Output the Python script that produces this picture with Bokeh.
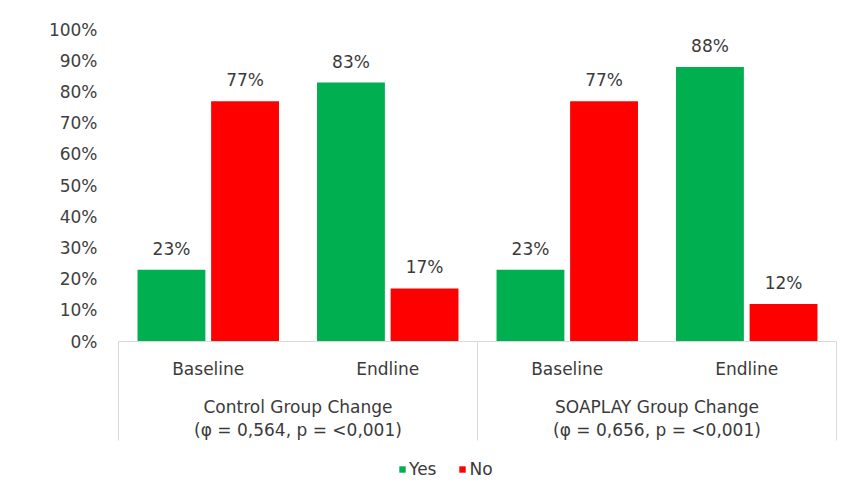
from bokeh.plotting import figure
from bokeh.models import (Range1d, FixedTicker, NumeralTickFormatter, Legend,
                          LegendItem, ColumnDataSource)
from bokeh.core.properties import value
from bokeh.embed import file_html
from bokeh.resources import INLINE

# ---- data ----
groups = ["Control Group Change", "SOAPLAY Group Change"]
group_stats = ["(φ = 0,564, p = <0,001)", "(φ = 0,656, p = <0,001)"]
periods = ["Baseline", "Endline", "Baseline", "Endline"]
yes = [0.23, 0.83, 0.23, 0.88]
no = [0.77, 0.17, 0.77, 0.12]
series = ["Yes", "No"]
y_ticks = [0.0, 0.1, 0.2, 0.3, 0.4, 0.5, 0.6, 0.7, 0.8, 0.9, 1.0]

# ---- styling / layout ----
GREEN = "#00B050"
RED = "#FF0000"
TEXT = "#3A3A3A"
TICK = "#404040"
LINE = "#D9D9D9"
FONT = "DejaVu Sans"
FS = "17px"

W, H = 853, 494
FL, FR = 110, 10          # frame borders (px)
X0PX, CATPX = 118, 179.5  # first category edge, px per category
Y0PX, UNITPX = 341, 312   # y=0 px from top, px per 100%

x_start = (FL - X0PX) / CATPX
x_end = (W - FR - X0PX) / CATPX
y_end = Y0PX / UNITPX
y_start = -(H - Y0PX) / UNITPX

p = figure(width=W, height=H, output_backend="svg", toolbar_location=None,
           x_range=Range1d(x_start, x_end), y_range=Range1d(y_start, y_end),
           min_border_left=FL, min_border_right=FR, min_border_top=0,
           min_border_bottom=0, x_axis_location=None)
p.outline_line_color = None
p.grid.visible = False
p.background_fill_color = "white"
p.border_fill_color = "white"

ax = p.yaxis[0]
ax.ticker = FixedTicker(ticks=y_ticks)
ax.formatter = NumeralTickFormatter(format="0%")
ax.axis_line_color = None
ax.major_tick_line_color = None
ax.minor_tick_line_color = None
ax.major_tick_out = 0
ax.major_label_standoff = 13
ax.major_label_text_font = FONT
ax.major_label_text_font_size = FS
ax.major_label_text_color = TICK

n = len(periods)
centers = [i + 0.5 for i in range(n)]
off = 0.205
bw = 0.378

src = ColumnDataSource(dict(
    xy=[c - off for c in centers], xn=[c + off for c in centers],
    yes=yes, no=no,
    ylab=[f"{v:.0%}" for v in yes], nlab=[f"{v:.0%}" for v in no],
))

r_yes = p.vbar(x="xy", top="yes", bottom=0, width=bw, source=src,
               fill_color=GREEN, line_color=None)
r_no = p.vbar(x="xn", top="no", bottom=0, width=bw, source=src,
              fill_color=RED, line_color=None)

for xcol, ycol, lcol in [("xy", "yes", "ylab"), ("xn", "no", "nlab")]:
    p.text(x=xcol, y=ycol, text=lcol, source=src, text_align="center",
           text_baseline="alphabetic", y_offset=-21,
           text_font=value(FONT), text_font_size=FS, text_color=TEXT)

# category axis frame lines
p.segment(x0=[0], y0=[0], x1=[n], y1=[0], line_color=LINE, line_width=1)
sep_x = [0, n / 2, n]
sep_bottom = (Y0PX - 440) / UNITPX
p.segment(x0=sep_x, y0=[0] * 3, x1=sep_x, y1=[sep_bottom] * 3,
          line_color=LINE, line_width=1)

# period labels
p.text(x=centers, y=[(Y0PX - 368) / UNITPX] * n, text=periods,
       text_align="center", text_baseline="middle",
       text_font=value(FONT), text_font_size=FS, text_color=TEXT)

# group labels
gx = [1.0, 3.0]
p.text(x=gx, y=[(Y0PX - 406) / UNITPX] * 2, text=groups,
       text_align="center", text_baseline="middle",
       text_font=value(FONT), text_font_size=FS, text_color=TEXT)
p.text(x=gx, y=[(Y0PX - 429) / UNITPX] * 2, text=group_stats,
       text_align="center", text_baseline="middle",
       text_font=value(FONT), text_font_size=FS, text_color=TEXT)

legend = Legend(items=[LegendItem(label=series[0], renderers=[r_yes]),
                       LegendItem(label=series[1], renderers=[r_no])],
                orientation="horizontal", location=(288, 15),
                glyph_width=8, glyph_height=8, label_standoff=3, spacing=22,
                padding=0, margin=0, border_line_color=None,
                background_fill_alpha=0,
                label_text_font=FONT, label_text_font_size=FS,
                label_text_color=TEXT)
p.add_layout(legend)

open("out.html", "w").write(file_html(p, INLINE))
